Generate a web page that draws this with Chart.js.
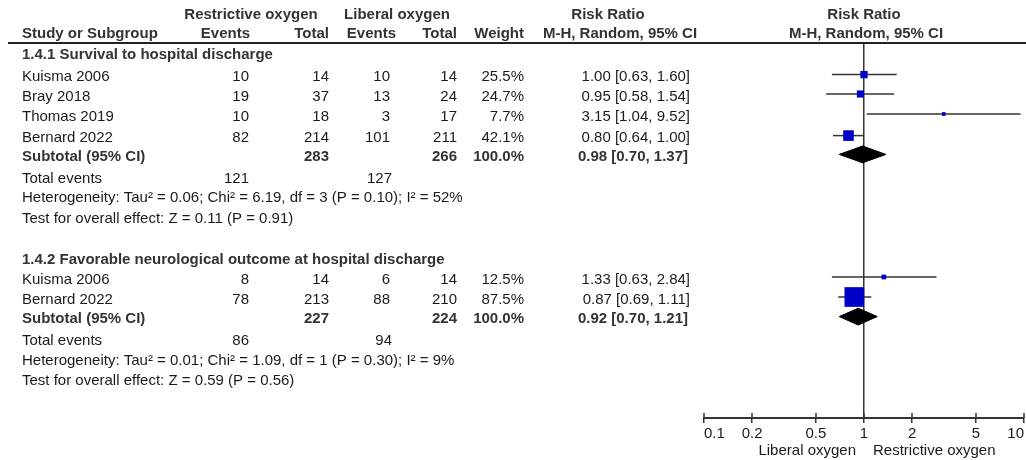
<!DOCTYPE html>
<html>
<head>
<meta charset="utf-8">
<script src="https://cdn.jsdelivr.net/npm/chart.js@4/dist/chart.umd.min.js"></script>
<style>
  html, body { margin: 0; padding: 0; background: #fff; }
  canvas { display: block; }
</style>
</head>
<body>
<canvas id="forest" width="1026" height="460"></canvas>
<script>
// ---- Study-level data (both subgroups) ----
const studies        = ['Kuisma 2006', 'Bray 2018', 'Thomas 2019', 'Bernard 2022', 'Kuisma 2006', 'Bernard 2022'];
const restrictEvents = [10, 19, 10, 82, 8, 78];
const restrictTotal  = [14, 37, 18, 214, 14, 213];
const liberalEvents  = [10, 13, 3, 101, 6, 88];
const liberalTotal   = [14, 24, 17, 211, 14, 210];
const weights        = [25.5, 24.7, 7.7, 42.1, 12.5, 87.5];
const riskRatio      = [1.00, 0.95, 3.15, 0.80, 1.33, 0.87];
const ciLow          = [0.63, 0.58, 1.04, 0.64, 0.63, 0.69];
const ciHigh         = [1.60, 1.54, 9.52, 1.00, 2.84, 1.11];
const studyRows      = [1.58, 2.55, 3.55, 4.63, 11.70, 12.70];

// ---- Subgroup summaries ----
const groupTitles      = ['1.4.1 Survival to hospital discharge', '1.4.2 Favorable neurological outcome at hospital discharge'];
const subRestrictTotal = [283, 227];
const subLiberalTotal  = [266, 224];
const subWeight        = [100.0, 100.0];
const subRR            = [0.98, 0.92];
const subLow           = [0.70, 0.70];
const subHigh          = [1.37, 1.21];
const totalEventsR     = [121, 86];
const totalEventsL     = [127, 94];
const heterogeneity    = ['Heterogeneity: Tau² = 0.06; Chi² = 6.19, df = 3 (P = 0.10); I² = 52%',
                          'Heterogeneity: Tau² = 0.01; Chi² = 1.09, df = 1 (P = 0.30); I² = 9%'];
const overallEffect    = ['Test for overall effect: Z = 0.11 (P = 0.91)',
                          'Test for overall effect: Z = 0.59 (P = 0.56)'];
const titleRows    = [0.47, 10.70];
const subtotalRows = [5.57, 13.68];
const totalRows    = [6.67, 14.78];
const hetRows      = [7.63, 15.78];
const testRows     = [8.68, 16.78];
const headerRows   = [-1.53, -0.56];

// ---- Axis ----
const tickValues = [0.1, 0.2, 0.5, 1, 2, 5, 10];
const tickLabels = ['0.1', '0.2', '0.5', '1', '2', '5', '10'];
const favoursLeft  = 'Liberal oxygen';
const favoursRight = 'Restrictive oxygen';

const FONT = '"Liberation Sans", Arial, Helvetica, sans-serif';
const TEXT = '#1a1a1a';
const BOLD = '#333333';
const LINE = '#333333';
const BLUE = '#0000c8';
const DIAMOND_H = 0.42;

const fmt2 = v => v.toFixed(2);
const rrText = (r, l, h) => `${fmt2(r)} [${fmt2(l)}, ${fmt2(h)}]`;

// CI whiskers, one line dataset per study
const ciDatasets = studies.map((s, i) => ({
  type: 'line',
  data: [{ x: ciLow[i], y: studyRows[i] }, { x: ciHigh[i], y: studyRows[i] }],
  borderColor: LINE, borderWidth: 1.5, pointRadius: 0, fill: false, order: 2, clip: false
}));

// Pooled-estimate diamonds
const diamondDatasets = subRR.map((r, g) => ({
  type: 'line',
  data: [
    { x: subLow[g], y: subtotalRows[g] },
    { x: r, y: subtotalRows[g] - DIAMOND_H },
    { x: subHigh[g], y: subtotalRows[g] },
    { x: r, y: subtotalRows[g] + DIAMOND_H },
    { x: subLow[g], y: subtotalRows[g] }
  ],
  borderColor: '#000', borderWidth: 1, backgroundColor: '#000',
  pointRadius: 0, fill: 'shape', tension: 0, order: 1, clip: false
}));

// Study point estimates, square size scaled by weight
const squareDataset = {
  type: 'scatter',
  data: riskRatio.map((r, i) => ({ x: r, y: studyRows[i] })),
  pointStyle: 'rect',
  pointRadius: weights.map(w => (2.2 + 0.2 * w) / Math.SQRT2),
  backgroundColor: BLUE, borderWidth: 0, order: 0, clip: false
};

// Table columns and axis captions
const tablePlugin = {
  id: 'forestTable',
  afterDraw(chart) {
    const ctx = chart.ctx;
    const y = chart.scales.y;
    const x = chart.scales.x;
    const py = v => y.getPixelForValue(v) + 2.5;
    const put = (txt, px, row, align, bold) => {
      ctx.font = (bold ? 'bold ' : '') + '15px ' + FONT;
      ctx.fillStyle = bold ? BOLD : TEXT;
      ctx.textAlign = align;
      ctx.textBaseline = 'middle';
      ctx.fillText(String(txt), px, py(row));
    };
    ctx.save();

    // header
    put('Restrictive oxygen', 251, headerRows[0], 'center', true);
    put('Liberal oxygen', 397, headerRows[0], 'center', true);
    put('Risk Ratio', 608, headerRows[0], 'center', true);
    put('Risk Ratio', x.getPixelForValue(1), headerRows[0], 'center', true);
    put('Study or Subgroup', 22, headerRows[1], 'left', true);
    put('Events', 250, headerRows[1], 'right', true);
    put('Total', 329, headerRows[1], 'right', true);
    put('Events', 396, headerRows[1], 'right', true);
    put('Total', 457, headerRows[1], 'right', true);
    put('Weight', 524, headerRows[1], 'right', true);
    put('M-H, Random, 95% CI', 620, headerRows[1], 'center', true);
    put('M-H, Random, 95% CI', x.getPixelForValue(1) + 2, headerRows[1], 'center', true);

    // header rule
    ctx.strokeStyle = '#222';
    ctx.lineWidth = 2;
    ctx.beginPath();
    ctx.moveTo(8, chart.chartArea.top);
    ctx.lineTo(1026, chart.chartArea.top);
    ctx.stroke();

    // study rows
    studies.forEach((s, i) => {
      const r = studyRows[i];
      put(s, 22, r, 'left', false);
      put(restrictEvents[i], 249, r, 'right', false);
      put(restrictTotal[i], 329, r, 'right', false);
      put(liberalEvents[i], 390, r, 'right', false);
      put(liberalTotal[i], 457, r, 'right', false);
      put(weights[i].toFixed(1) + '%', 524, r, 'right', false);
      put(rrText(riskRatio[i], ciLow[i], ciHigh[i]), 690, r, 'right', false);
    });

    // subgroup blocks
    groupTitles.forEach((t, g) => {
      put(t, 22, titleRows[g], 'left', true);
      put('Subtotal (95% CI)', 22, subtotalRows[g], 'left', true);
      put(subRestrictTotal[g], 329, subtotalRows[g], 'right', true);
      put(subLiberalTotal[g], 457, subtotalRows[g], 'right', true);
      put(subWeight[g].toFixed(1) + '%', 524, subtotalRows[g], 'right', true);
      put(rrText(subRR[g], subLow[g], subHigh[g]), 688, subtotalRows[g], 'right', true);
      put('Total events', 22, totalRows[g], 'left', false);
      put(totalEventsR[g], 249, totalRows[g], 'right', false);
      put(totalEventsL[g], 392, totalRows[g], 'right', false);
      put(heterogeneity[g], 22, hetRows[g], 'left', false);
      put(overallEffect[g], 22, testRows[g], 'left', false);
    });

    // upper halves of the axis tick marks
    const axisY = chart.chartArea.bottom;
    ctx.strokeStyle = LINE;
    ctx.lineWidth = 1.5;
    tickValues.forEach(v => {
      const px = Math.round(x.getPixelForValue(v));
      ctx.beginPath();
      ctx.moveTo(px, axisY - 5);
      ctx.lineTo(px, axisY);
      ctx.stroke();
    });

    // favours captions
    const one = x.getPixelForValue(1);
    ctx.font = '15px ' + FONT;
    ctx.fillStyle = TEXT;
    ctx.textBaseline = 'middle';
    ctx.textAlign = 'right';
    ctx.fillText(favoursLeft, one - 8, 451);
    ctx.textAlign = 'left';
    ctx.fillText(favoursRight, one + 9, 451);
    ctx.restore();
  }
};

new Chart(document.getElementById('forest'), {
  data: { datasets: [squareDataset, ...diamondDatasets, ...ciDatasets] },
  options: {
    responsive: false,
    devicePixelRatio: 1,
    animation: false,
    events: [],
    layout: { autoPadding: false, padding: { left: 704, right: 2, top: 43, bottom: 0 } },
    plugins: { legend: { display: false }, tooltip: { enabled: false } },
    scales: {
      x: {
        type: 'logarithmic',
        min: 0.1, max: 10,
        afterBuildTicks: s => { s.ticks = tickValues.map(v => ({ value: v })); },
        afterFit: s => { s.height = 42; s.paddingLeft = 0; s.paddingRight = 0; },
        ticks: {
          autoSkip: false, maxRotation: 0, align: 'inner', padding: 2,
          color: TEXT, font: { family: FONT, size: 15 },
          callback: (v, i) => tickLabels[i]
        },
        grid: {
          drawOnChartArea: true,
          color: c => (c.tick && c.tick.value === 1 ? LINE : 'rgba(0,0,0,0)'),
          lineWidth: 1.5,
          drawTicks: true, tickLength: 5, tickColor: LINE, tickWidth: 1.5
        },
        border: { display: true, color: LINE, width: 2 }
      },
      y: {
        type: 'linear', display: false, reverse: true,
        min: 0, max: 18.75
      }
    }
  },
  plugins: [tablePlugin]
});
</script>
</body>
</html>
